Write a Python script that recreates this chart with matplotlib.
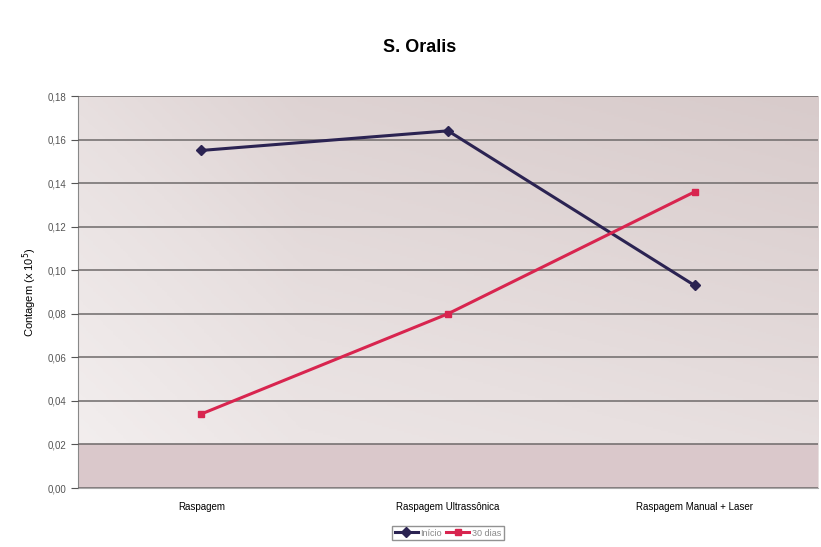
import numpy as np
import matplotlib.pyplot as plt
from matplotlib.colors import LinearSegmentedColormap

categorias = ['Raspagem', 'Raspagem Ultrassônica', 'Raspagem Manual + Laser']
inicio = [0.155, 0.164, 0.093]
dias30 = [0.034, 0.080, 0.136]
series_nomes = ['Início', '30 dias']

fig = plt.figure(figsize=(8.21, 5.47), dpi=100)
ax = fig.add_axes([78 / 821, 1 - 488 / 547, 740 / 821, 392 / 547])

# fundo em degradê diagonal
xx, yy = np.meshgrid(np.linspace(0, 1, 300), np.linspace(0, 1, 200))
z = 0.6 * xx + 0.5 * yy - 0.35 * np.abs(xx - 0.3)
cmap = LinearSegmentedColormap.from_list('fundo', ['#f4f0f0', '#e8e0e0', '#d8cbcb'])
ax.imshow(z, extent=[-0.5, 2.5, 0, 0.18], origin='lower', aspect='auto', cmap=cmap, zorder=0)
ax.axhspan(0, 0.02, color='#dac8cb', zorder=0.5)

x = np.arange(len(categorias))
ax.plot(x, inicio, color='#2b2352', lw=2.2, marker='D', ms=5.5, label=series_nomes[0], zorder=3)
ax.plot(x, dias30, color='#d8254f', lw=2.2, marker='s', ms=4.5, label=series_nomes[1], zorder=3)

ax.set_xlim(-0.5, 2.5)
ax.set_ylim(0, 0.18)
ax.set_yticks(np.arange(0, 0.181, 0.02))
ax.set_yticklabels([f'{v:.2f}'.replace('.', ',') for v in np.arange(0, 0.181, 0.02)])
ax.yaxis.grid(True, color='#6e6a6a', lw=1.1, zorder=1)
ax.set_axisbelow(False)
ax.set_xticks(x)
ax.set_xticklabels(categorias, fontsize=7, family='Liberation Sans')
ax.tick_params(axis='y', labelsize=7, length=5, colors='#555555')
ax.tick_params(axis='x', length=0, pad=10)
for lab in ax.get_yticklabels():
    lab.set_family('Liberation Sans')
for s in ['top', 'right']:
    ax.spines[s].set_visible(False)
ax.spines['left'].set_color('#888888')
ax.spines['bottom'].set_color('#aaaaaa')

ax.set_ylabel('Contagem (x 10$^5$)', fontsize=8, family='Liberation Sans', labelpad=6)
fig.text(420 / 821, 1 - 47 / 547, 'S. Oralis', ha='center', va='center', fontsize=13,
         fontweight='bold', family='Liberation Sans')

leg = ax.legend(loc='center', bbox_to_anchor=(448 / 821, 1 - 533 / 547), bbox_transform=fig.transFigure,
                ncol=2, frameon=True, fancybox=False, edgecolor='#777777',
                prop={'family': 'Liberation Sans', 'size': 6.5},
                handlelength=2.5, columnspacing=0.5, handletextpad=0.3, borderpad=0.3)
for t in leg.get_texts():
    t.set_color('#888888')

fig.savefig('out.png', dpi=100)
